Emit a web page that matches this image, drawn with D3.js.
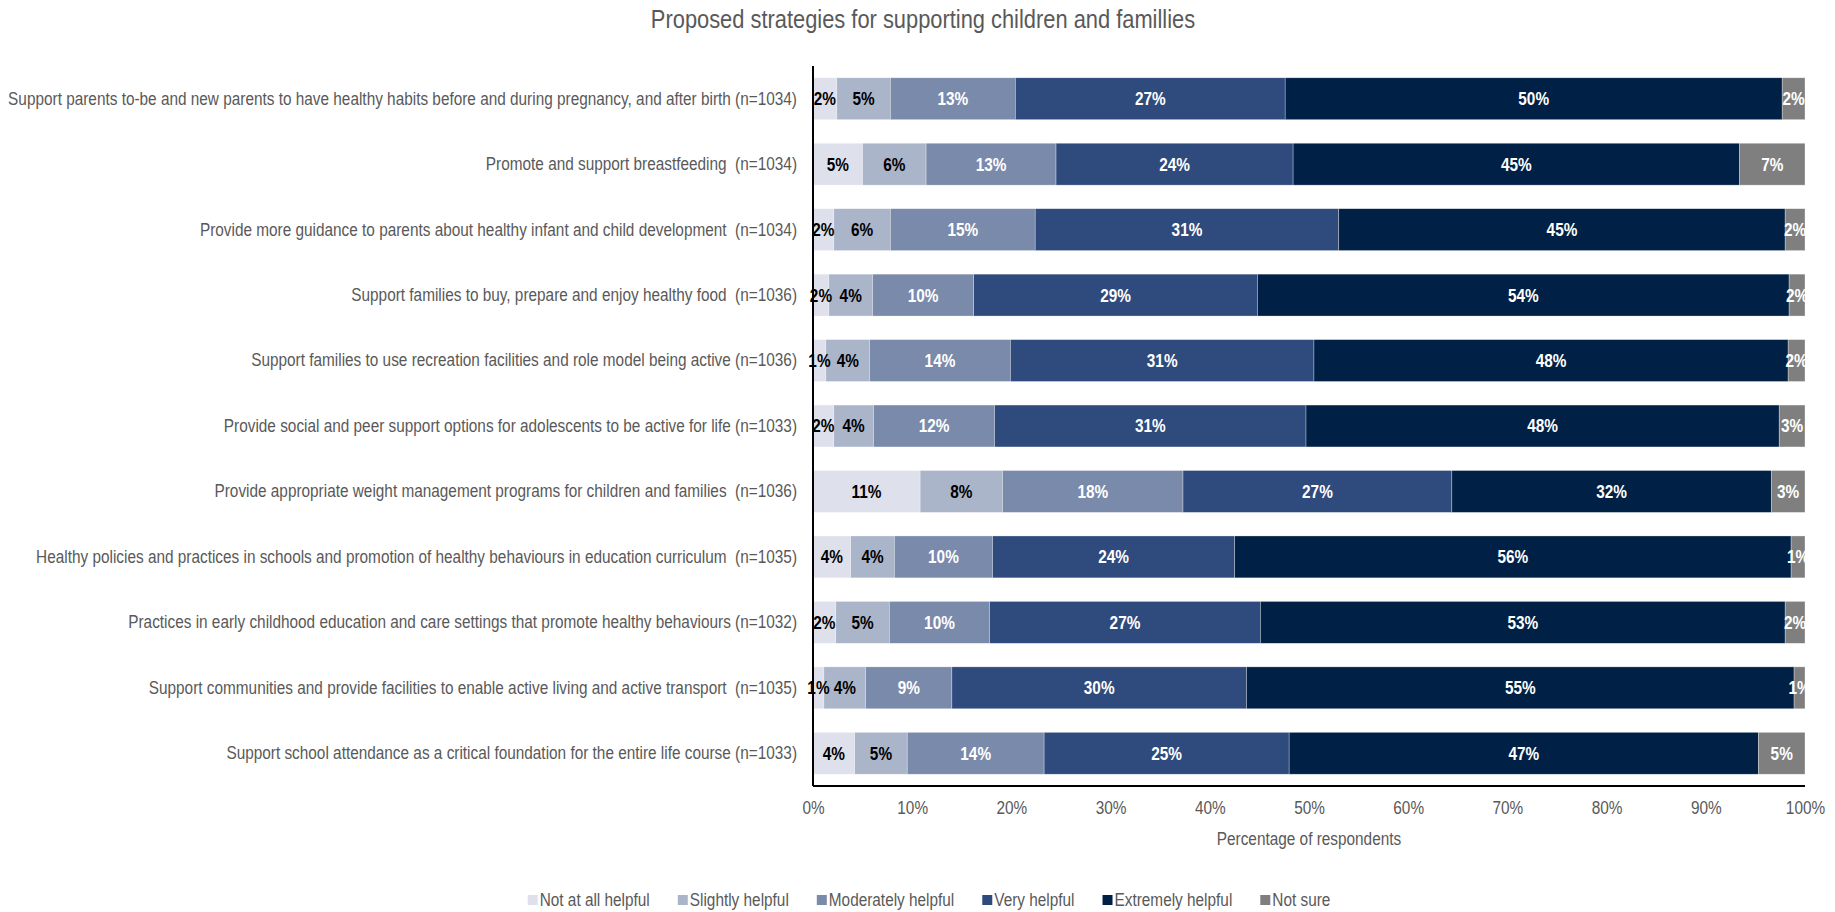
<!DOCTYPE html>
<html>
<head>
<meta charset="utf-8">
<script src="https://cdn.jsdelivr.net/npm/d3@7"></script>
<style>
  html, body { margin: 0; padding: 0; background: #ffffff; }
  svg { display: block; }
  text { font-family: "Liberation Sans", Arial, sans-serif; }
</style>
</head>
<body>
<svg id="chart" width="1835" height="912"></svg>
<script>
// Survey strategies (y categories), top to bottom
const categories = [
  "Support parents to-be and new parents to have healthy habits before and during pregnancy, and after birth (n=1034)",
  "Promote and support breastfeeding  (n=1034)",
  "Provide more guidance to parents about healthy infant and child development  (n=1034)",
  "Support families to buy, prepare and enjoy healthy food  (n=1036)",
  "Support families to use recreation facilities and role model being active (n=1036)",
  "Provide social and peer support options for adolescents to be active for life (n=1033)",
  "Provide appropriate weight management programs for children and families  (n=1036)",
  "Healthy policies and practices in schools and promotion of healthy behaviours in education curriculum  (n=1035)",
  "Practices in early childhood education and care settings that promote healthy behaviours (n=1032)",
  "Support communities and provide facilities to enable active living and active transport  (n=1035)",
  "Support school attendance as a critical foundation for the entire life course (n=1033)"
];

// Response series (percent of respondents), one value per strategy
const notAtAll   = [2.4, 5.0, 2.1, 1.6, 1.3, 2.1, 10.8, 3.8, 2.3, 1.1, 4.2];
const slightly   = [5.4, 6.4, 5.7, 4.4, 4.4, 4.0, 8.3, 4.4, 5.4, 4.2, 5.3];
const moderately = [12.6, 13.1, 14.6, 10.2, 14.2, 12.2, 18.2, 9.9, 10.1, 8.7, 13.8];
const very       = [27.2, 23.9, 30.6, 28.6, 30.6, 31.4, 27.1, 24.4, 27.3, 29.7, 24.7];
const extremely  = [50.1, 45.0, 45.0, 53.6, 47.8, 47.7, 32.2, 56.1, 52.9, 55.2, 47.3];
const notSure    = [2.3, 6.6, 2.0, 1.6, 1.7, 2.6, 3.4, 1.4, 2.0, 1.1, 4.7];

const seriesNames = ["Not at all helpful", "Slightly helpful", "Moderately helpful", "Very helpful", "Extremely helpful", "Not sure"];
const seriesValues = [notAtAll, slightly, moderately, very, extremely, notSure];
const seriesColors = ["#dee1eb", "#abb5ca", "#7a8aab", "#2f4a7c", "#002145", "#7f7f7f"];
const labelColors  = ["#000000", "#000000", "#ffffff", "#ffffff", "#ffffff", "#ffffff"];

const xTicks = [0, 10, 20, 30, 40, 50, 60, 70, 80, 90, 100];

const title = "Proposed strategies for supporting children and famillies";
const xTitle = "Percentage of respondents";

// Build rows for d3.stack
const rows = categories.map((c, i) => {
  const r = { category: c };
  seriesNames.forEach((s, k) => { r[s] = seriesValues[k][i]; });
  return r;
});

const svg = d3.select("#chart");
const W = 1835, H = 912;
const margin = { top: 66, right: 30, bottom: 126, left: 813 };
const innerW = W - margin.left - margin.right;
const innerH = H - margin.top - margin.bottom;

// Condensed type: horizontally compressed sans
const SX = 0.83;
const FS = 18.5;
const textGrey = "#595959";

const x = d3.scaleLinear().domain([0, 100]).range([margin.left, margin.left + innerW]);
const y = d3.scaleBand().domain(categories).range([margin.top, margin.top + innerH])
  .paddingInner(0.36).paddingOuter(0.18);
const color = d3.scaleOrdinal().domain(seriesNames).range(seriesColors);
const textColor = d3.scaleOrdinal().domain(seriesNames).range(labelColors);

const stacked = d3.stack().keys(seriesNames)(rows);

function placeText(sel, px, py, sx) {
  return sel.attr("x", 0).attr("y", 0)
    .attr("transform", (d, i) => {
      const X = typeof px === "function" ? px(d, i) : px;
      const Y = typeof py === "function" ? py(d, i) : py;
      return `translate(${X},${Y}) scale(${sx},1)`;
    });
}

// Title
placeText(svg.append("text"), 923, 28, 0.875)
  .attr("text-anchor", "middle")
  .attr("font-size", 25)
  .attr("fill", textGrey)
  .text(title);

// Bars
const layers = svg.append("g").selectAll("g")
  .data(stacked).join("g")
  .attr("fill", d => color(d.key));

layers.selectAll("rect")
  .data(d => d)
  .join("rect")
  .attr("x", d => x(d[0]))
  .attr("y", d => y(d.data.category))
  .attr("width", d => x(d[1]) - x(d[0]))
  .attr("height", y.bandwidth())
  .attr("stroke", "#ffffff")
  .attr("stroke-width", 0.6)
  .attr("stroke-opacity", 0.5);

// Value labels
const fmt = v => Math.round(v) + "%";
const labelSel = svg.append("g").selectAll("g")
  .data(stacked).join("g")
  .selectAll("text")
  .data(d => d.map(v => ({ v, key: d.key })))
  .join("text");
placeText(labelSel,
    d => (x(d.v[0]) + x(d.v[1])) / 2,
    d => y(d.v.data.category) + y.bandwidth() / 2, SX)
  .attr("dy", "0.35em")
  .attr("text-anchor", "middle")
  .attr("font-size", FS)
  .attr("font-weight", "bold")
  .attr("fill", d => textColor(d.key))
  .text(d => fmt(d.v[1] - d.v[0]));

// Category labels (y axis)
const yAxis = d3.axisLeft(y).tickSize(0).tickPadding(0);
const gy = svg.append("g")
  .attr("transform", `translate(${margin.left - 16},0)`)
  .call(yAxis);
gy.select(".domain").remove();
gy.selectAll("text")
  .attr("x", 0)
  .attr("transform", `scale(${SX},1)`)
  .attr("font-size", FS)
  .attr("fill", textGrey)
  .style("white-space", "pre")
  .attr("font-family", null);

// X axis tick labels
const xAxis = d3.axisBottom(x).tickValues(xTicks).tickFormat(d => d + "%").tickSize(0).tickPadding(15);
const gx = svg.append("g")
  .attr("transform", `translate(0,${margin.top + innerH})`)
  .call(xAxis);
gx.select(".domain").remove();
gx.selectAll("text")
  .attr("transform", `scale(${SX},1)`)
  .attr("font-size", FS)
  .attr("fill", textGrey)
  .attr("font-family", null);

// Axis lines
svg.append("line")
  .attr("x1", margin.left).attr("x2", margin.left)
  .attr("y1", margin.top).attr("y2", margin.top + innerH)
  .attr("stroke", "#000").attr("stroke-width", 2);
svg.append("line")
  .attr("x1", margin.left).attr("x2", margin.left + innerW)
  .attr("y1", margin.top + innerH).attr("y2", margin.top + innerH)
  .attr("stroke", "#000").attr("stroke-width", 2);

// X axis title
placeText(svg.append("text"), (x(0) + x(100)) / 2, 845, SX)
  .attr("text-anchor", "middle")
  .attr("font-size", FS)
  .attr("fill", textGrey)
  .text(xTitle);

// Legend, centred under the chart
const legend = svg.append("g");
const items = legend.selectAll("g").data(seriesNames).join("g");
items.append("rect")
  .attr("width", 10).attr("height", 10)
  .attr("y", -5)
  .attr("fill", d => color(d));
placeText(items.append("text"), 12, 0, SX)
  .attr("dy", "0.35em")
  .attr("font-size", FS)
  .attr("fill", textGrey)
  .text(d => d);
let cursor = 0;
const GAP = 28;
items.each(function () {
  const g = d3.select(this);
  g.attr("transform", `translate(${cursor},0)`);
  cursor += 12 + g.select("text").node().getComputedTextLength() * SX + GAP;
});
const legendW = cursor - GAP;
legend.attr("transform", `translate(${929 - legendW / 2},900)`);
</script>
</body>
</html>
